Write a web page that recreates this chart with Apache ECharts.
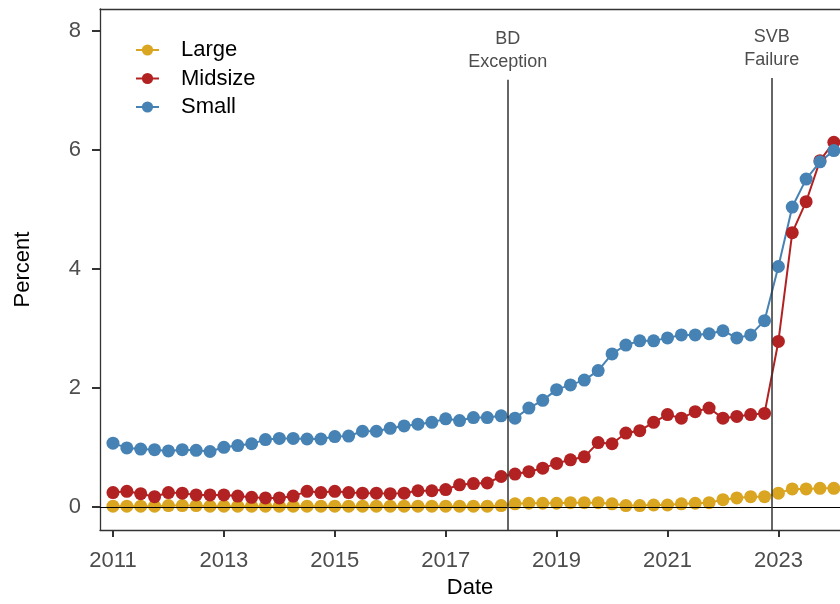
<!DOCTYPE html>
<html>
<head>
<meta charset="utf-8">
<script src="https://cdn.jsdelivr.net/npm/echarts@6/dist/echarts.min.js"></script>
<style>
  html, body { margin: 0; padding: 0; background: #fff; }
  #chart { width: 840px; height: 604px; }
</style>
</head>
<body>
<div id="chart"></div>
<script>
// quarters, 2011Q1 .. 2024Q1
const quarters = [
  '2011Q1', '2011Q2', '2011Q3', '2011Q4', '2012Q1', '2012Q2', '2012Q3', '2012Q4',
  '2013Q1', '2013Q2', '2013Q3', '2013Q4', '2014Q1', '2014Q2', '2014Q3', '2014Q4',
  '2015Q1', '2015Q2', '2015Q3', '2015Q4', '2016Q1', '2016Q2', '2016Q3', '2016Q4',
  '2017Q1', '2017Q2', '2017Q3', '2017Q4', '2018Q1', '2018Q2', '2018Q3', '2018Q4',
  '2019Q1', '2019Q2', '2019Q3', '2019Q4', '2020Q1', '2020Q2', '2020Q3', '2020Q4',
  '2021Q1', '2021Q2', '2021Q3', '2021Q4', '2022Q1', '2022Q2', '2022Q3', '2022Q4',
  '2023Q1', '2023Q2', '2023Q3', '2023Q4', '2024Q1'
]

const large = [
  0.01, 0.01, 0.01, 0.01, 0.02, 0.02, 0.02, 0.01, 0.01, 0.01, 0.01, 0.01, 0.01, 0.01, 0.01, 0.01,
  0.01, 0.01, 0.01, 0.01, 0.01, 0.01, 0.01, 0.01, 0.01, 0.01, 0.01, 0.01, 0.02, 0.05, 0.06, 0.06,
  0.06, 0.07, 0.07, 0.07, 0.05, 0.02, 0.02, 0.03, 0.03, 0.05, 0.06, 0.07, 0.12, 0.15, 0.17, 0.17,
  0.23, 0.30, 0.30, 0.31, 0.31
]
const midsize = [
  0.24, 0.26, 0.22, 0.17, 0.24, 0.23, 0.20, 0.20, 0.20, 0.18, 0.16, 0.15, 0.15, 0.18, 0.26, 0.24,
  0.26, 0.24, 0.23, 0.23, 0.22, 0.23, 0.27, 0.27, 0.29, 0.37, 0.39, 0.40, 0.51, 0.55, 0.59, 0.65,
  0.73, 0.79, 0.84, 1.08, 1.06, 1.24, 1.28, 1.42, 1.55, 1.49, 1.60, 1.66, 1.49, 1.52, 1.55, 1.57,
  2.78, 4.61, 5.13, 5.82, 6.13
]
const small = [
  1.07, 0.99, 0.97, 0.96, 0.94, 0.96, 0.95, 0.93, 1.00, 1.03, 1.06, 1.13, 1.15, 1.15, 1.14, 1.14,
  1.18, 1.19, 1.27, 1.27, 1.32, 1.36, 1.39, 1.42, 1.48, 1.45, 1.50, 1.50, 1.53, 1.49, 1.66, 1.79,
  1.97, 2.05, 2.13, 2.29, 2.57, 2.72, 2.79, 2.79, 2.84, 2.89, 2.89, 2.91, 2.96, 2.84, 2.89, 3.13,
  4.04, 5.04, 5.51, 5.80, 5.99
]

const yearTicks = [2011, 2013, 2015, 2017, 2019, 2021, 2023]
const percentTicks = [0, 2, 4, 6, 8]

// vertical event lines (decimal year)
const events = [
  { label: 'BD\nException', date: 2018.12, top: 7.18 },
  { label: 'SVB\nFailure', date: 2022.88, top: 7.21 }
]

const groups = [
  { name: 'Large', values: large, color: '#DAA520' },
  { name: 'Midsize', values: midsize, color: '#B22222' },
  { name: 'Small', values: small, color: '#4682B4' }
]

const FONT = '"Liberation Sans", Arial, sans-serif'
const xMin = 2010.766
const xMax = 2024.111 // panel runs past the right edge of the picture
const yMin = -0.39
const yMax = 8.37
const frame = { show: true, onZero: false, lineStyle: { color: '#333', width: 1.3 } }

function toYear(q) {
  return Number(q.slice(0, 4)) + (Number(q.slice(5)) - 1) / 4
}

function pairs(values) {
  return values.map((v, i) => [toYear(quarters[i]), v])
}

const lineSeries = groups.map(g => ({
  name: g.name,
  type: 'line',
  symbol: 'none',
  color: g.color,
  lineStyle: { color: g.color, width: 2 },
  z: 2,
  data: pairs(g.values)
}))

const pointSeries = groups.map(g => ({
  name: g.name,
  type: 'scatter',
  symbolSize: 13,
  itemStyle: { color: g.color, opacity: 1 },
  z: 3,
  data: pairs(g.values)
}))

const markLines = [{ yAxis: 0, lineStyle: { color: '#000', width: 1, type: 'solid' }, label: { show: false } }]
events.forEach(e => {
  markLines.push([
    {
      coord: [e.date, e.top],
      lineStyle: { color: '#333', width: 1.5, type: 'solid' },
      label: {
        show: true,
        position: 'start',
        formatter: e.label,
        color: '#4d4d4d',
        fontSize: 18,
        lineHeight: 23,
        fontFamily: FONT,
        distance: 6
      }
    },
    { coord: [e.date, yMin] }
  ])
})

pointSeries[2].markLine = {
  silent: true,
  z: 10,
  symbol: ['none', 'none'],
  animation: false,
  data: markLines
}

const chart = echarts.init(document.getElementById('chart'))
chart.setOption({
  animation: false,
  backgroundColor: '#fff',
  textStyle: { fontFamily: FONT },
  grid: {
    left: 100,
    top: 9,
    right: 0,
    bottom: 74
  },
  legend: {
    data: ['Large', 'Midsize', 'Small'],
    orient: 'vertical',
    left: 130,
    top: 33,
    itemWidth: 23,
    itemHeight: 14,
    itemGap: 4.5,
    textStyle: { fontSize: 22, lineHeight: 24, color: '#000', fontFamily: FONT, padding: [0, 0, 0, 17] }
  },
  xAxis: [{
    type: 'value',
    min: xMin,
    max: xMax,
    name: 'Date',
    nameLocation: 'middle',
    nameGap: 46,
    nameTextStyle: { fontSize: 22, color: '#000', fontFamily: FONT },
    splitLine: { show: false },
    axisLine: frame,
    axisTick: { show: true, length: 7, lineStyle: { color: '#333', width: 2 }, customValues: yearTicks },
    axisLabel: {
      color: '#4d4d4d',
      fontSize: 22,
      margin: 20,
      fontFamily: FONT,
      customValues: yearTicks,
      formatter: v => String(v)
    }
  }, {
    // top border of the panel
    type: 'value',
    position: 'top',
    min: xMin,
    max: xMax,
    axisLine: frame,
    axisTick: { show: false },
    axisLabel: { show: false },
    splitLine: { show: false }
  }],
  yAxis: {
    type: 'value',
    min: yMin,
    max: yMax,
    name: 'Percent',
    nameLocation: 'middle',
    nameGap: 66,
    nameTextStyle: { fontSize: 22, color: '#000', fontFamily: FONT },
    splitLine: { show: false },
    axisLine: frame,
    axisTick: { show: true, length: 8, lineStyle: { color: '#333', width: 2 }, customValues: percentTicks },
    axisLabel: {
      color: '#4d4d4d',
      fontSize: 22,
      margin: 19,
      fontFamily: FONT,
      customValues: percentTicks
    }
  },
  series: lineSeries.concat(pointSeries)
})
</script>
</body>
</html>
